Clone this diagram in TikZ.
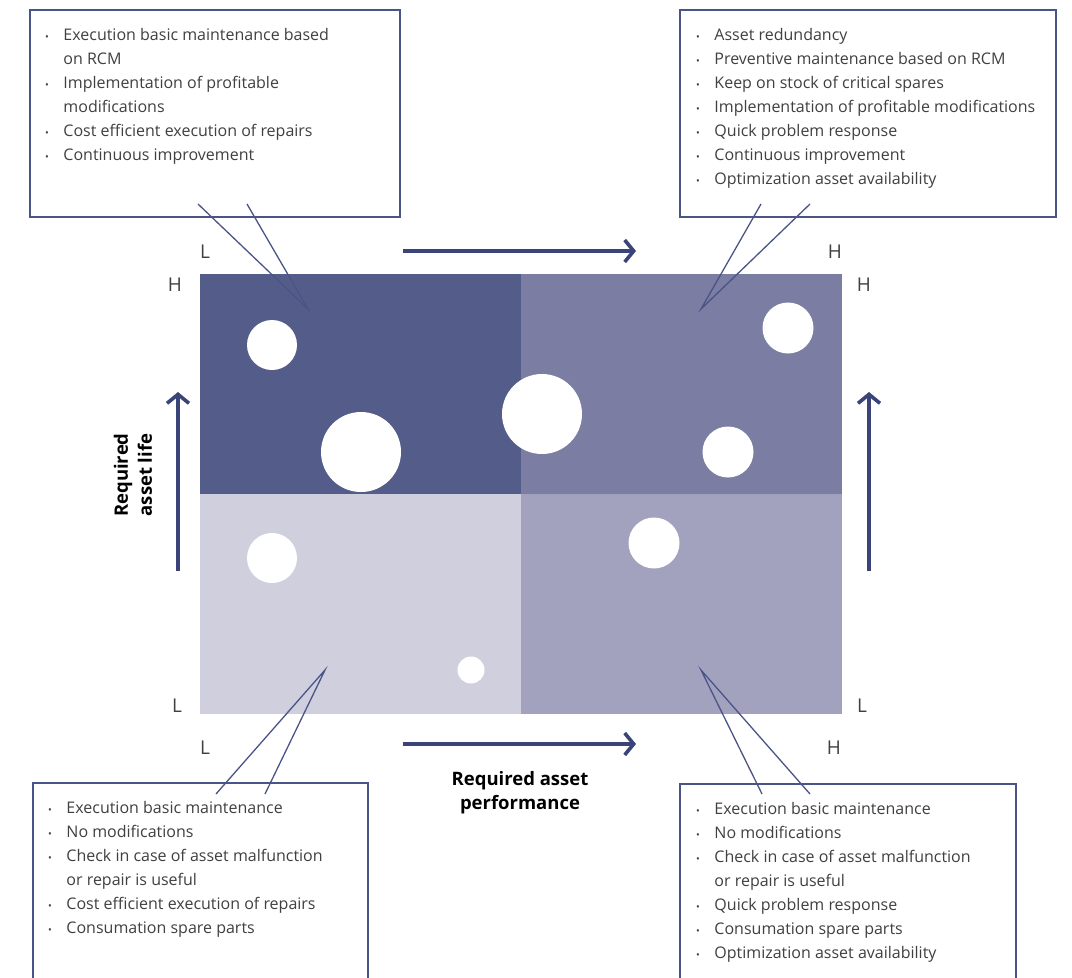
\documentclass[tikz,border=0pt]{standalone}
\usepackage{fontspec}
\setmainfont{Open Sans}
\usetikzlibrary{arrows.meta}
\definecolor{quadHH}{HTML}{545C8A}
\definecolor{quadLH}{HTML}{7B7DA3}
\definecolor{quadLL}{HTML}{CFCFDE}
\definecolor{quadHL}{HTML}{A2A2BF}
\definecolor{arrowblue}{HTML}{3B4479}
\definecolor{edgeblue}{HTML}{4A5486}
\definecolor{txtgray}{HTML}{404040}
\newcommand{\blt}{{\fontsize{10}{10}\selectfont\textbullet}}
\newcommand{\itemlist}[1]{\fontsize{16}{24}\selectfont
  \begin{tabular}{@{}l@{\hspace{14.5pt}}l@{}}#1\end{tabular}}
\begin{document}
\begin{tikzpicture}[x=1pt,y=-1pt,
  callout/.style={draw=edgeblue,line width=1.3pt,fill=white},
  tailline/.style={draw=edgeblue,line width=1.3pt},
  listtext/.style={anchor=north west,inner sep=0pt,text=txtgray},
  axislabel/.style={text=txtgray,font=\fontsize{19}{22}\selectfont,inner sep=0pt},
  bigarrow/.style={draw=arrowblue,line width=3.6pt,
    -{Straight Barb[length=9pt,width=22pt,line width=3.6pt]}},
  axistitle/.style={font=\bfseries\fontsize{18.5}{24}\selectfont,align=center,text=black,inner sep=0pt},
  dot/.style={circle,fill=white,inner sep=0pt}]
\clip (0,0) rectangle (1072,978);

% quadrants
\fill[quadHH] (200,274) rectangle (521,494);
\fill[quadLH] (521,274) rectangle (842,494);
\fill[quadLL] (200,494) rectangle (521,714);
\fill[quadHL] (521,494) rectangle (842,714);

% assets
\node[dot,minimum size=50pt] (c1) at (272,345) {};
\node[dot,minimum size=80pt] (c2) at (361,452) {};
\node[dot,minimum size=80pt] (c3) at (542,414) {};
\node[dot,minimum size=51pt] (c4) at (788,328) {};
\node[dot,minimum size=51pt] (c5) at (728,452) {};
\node[dot,minimum size=50pt] (c6) at (272,558) {};
\node[dot,minimum size=51pt] (c7) at (654,543) {};
\node[dot,minimum size=27pt] (c8) at (471,670) {};

% axis level labels
\node[axislabel] (tl) at (205,252) {L};
\node[axislabel] (tlh) at (175,285) {H};
\node[axislabel] (tr) at (835,252) {H};
\node[axislabel] (trh) at (864,285) {H};
\node[axislabel] (bll) at (177,706) {L};
\node[axislabel] (brl) at (862,706) {L};
\node[axislabel] (bl) at (205,748) {L};
\node[axislabel] (br) at (834,748) {H};

% axis arrows
\coordinate (ta1) at (403,251); \coordinate (ta2) at (636,251);
\coordinate (ba1) at (403,744); \coordinate (ba2) at (636,744);
\coordinate (la1) at (178,571); \coordinate (la2) at (178,392);
\coordinate (ra1) at (869,571); \coordinate (ra2) at (869,392);
\draw[bigarrow] (ta1) -- (ta2);
\draw[bigarrow] (ba1) -- (ba2);
\draw[bigarrow] (la1) -- (la2);
\draw[bigarrow] (ra1) -- (ra2);

\node[axistitle] (perf) at (520,793) {Required asset\\performance};
\node[axistitle,rotate=90] (life) at (133,475) {Required\\asset life};

% callout boxes
\draw[callout] (30,10) rectangle (400,217);
\draw[callout] (680,10) rectangle (1056,217);
\draw[callout] (33,783) rectangle (368,1000);
\draw[callout] (680,784) rectangle (1016,1000);

% callout tails
\coordinate (tipA) at (308,309);
\coordinate (tipB) at (701,309);
\coordinate (tipC) at (325,670);
\coordinate (tipD) at (701,670);
\draw[tailline] (198,204) -- (tipA) -- (247,204);
\draw[tailline] (761,204) -- (tipB) -- (810,204);
\draw[tailline] (216,794) -- (tipC) -- (265,794);
\draw[tailline] (762,794) -- (tipD) -- (810,794);

% callout texts
\node[listtext] (txtA) at (45,23) {\itemlist{
\blt & Execution basic maintenance based\\
     & on RCM\\
\blt & Implementation of profitable\\
     & modifications\\
\blt & Cost efficient execution of repairs\\
\blt & Continuous improvement}};
\node[listtext] (txtB) at (696,23) {\itemlist{
\blt & Asset redundancy\\
\blt & Preventive maintenance based on RCM\\
\blt & Keep on stock of critical spares\\
\blt & Implementation of profitable modifications\\
\blt & Quick problem response\\
\blt & Continuous improvement\\
\blt & Optimization asset availability}};
\node[listtext] (txtC) at (48,796) {\itemlist{
\blt & Execution basic maintenance\\
\blt & No modifications\\
\blt & Check in case of asset malfunction\\
     & or repair is useful\\
\blt & Cost efficient execution of repairs\\
\blt & Consumation spare parts}};
\node[listtext] (txtD) at (696,797) {\itemlist{
\blt & Execution basic maintenance\\
\blt & No modifications\\
\blt & Check in case of asset malfunction\\
     & or repair is useful\\
\blt & Quick problem response\\
\blt & Consumation spare parts\\
\blt & Optimization asset availability}};
\end{tikzpicture}
\end{document}
